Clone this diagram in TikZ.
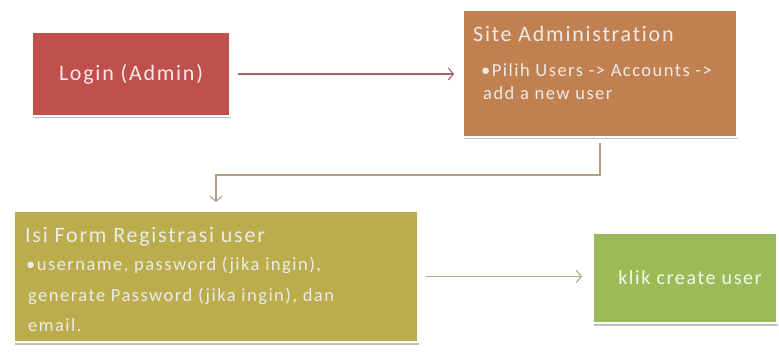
\documentclass[tikz,border=0pt]{standalone}
\usepackage{fontspec}
\setmainfont{Carlito}
\newfontfamily\boxfont[LetterSpace=8, Ligatures=NoCommon]{Carlito}
\usetikzlibrary{arrows.meta,shadows}
\definecolor{loginred}{HTML}{C0504D}
\definecolor{siteorange}{HTML}{C0804F}
\definecolor{formolive}{HTML}{BBAD4B}
\definecolor{klikgreen}{HTML}{9BBB59}
\definecolor{arrowA}{HTML}{9A6468}
\definecolor{arrowB}{HTML}{B49C7E}
\definecolor{arrowC}{HTML}{A9A88A}
\tikzset{
  box/.style={draw=white, line width=2pt, inner sep=0pt,
    drop shadow={shadow xshift=1pt, shadow yshift=-2.5pt, opacity=0.35, fill=black!70}},
  boxtxt/.style={text=white!92!black, inner sep=0pt, anchor=base west},
  titlefont/.style={font=\boxfont\fontsize{22}{26}\selectfont},
  bulfont/.style={font=\boxfont\fontsize{18.5}{22}\selectfont},
  conn/.style={line width=1.1pt, -{Straight Barb[length=5pt,width=12pt,line width=1.1pt]}},
}
\begin{document}
\begin{tikzpicture}[x=1pt,y=-1pt]
\path[use as bounding box, fill=white] (0,0) rectangle (779,358);

% boxes
\node[box, fill=loginred, minimum width=198pt, minimum height=84pt,
  titlefont, text=white!88!loginred] (login) at (131,74) {Login (Admin)};
\node[box, fill=siteorange, minimum width=274pt, minimum height=127pt] (site) at (600,73.5) {};
\node[box, fill=formolive, minimum width=404pt, minimum height=131pt] (form) at (216,276.5) {};
\node[box, fill=klikgreen, minimum width=184pt, minimum height=90pt,
  font=\boxfont\fontsize{20}{24}\selectfont, text=white!90!klikgreen] (klik) at (685,278) {\hspace*{10pt}klik create user};

% texts of site
\node[boxtxt, titlefont] (sitet) at (473,42) {Site Administration};
\node[boxtxt, bulfont] (site1) at (481,77) {\textbullet Pilih Users -> Accounts ->};
\node[boxtxt, bulfont] (site2) at (483,100) {add a new user};

% texts of form
\node[boxtxt, titlefont] (formt) at (25,243) {Isi Form Registrasi user};
\node[boxtxt, bulfont] (form1) at (26,270) {\textbullet username, password (jika ingin),};
\node[boxtxt, bulfont] (form2) at (28,301) {generate Password (jika ingin), dan};
\node[boxtxt, bulfont] (form3) at (28,331) {email.};

% connectors
\coordinate (bend) at (600,175);
\draw[conn, draw=arrowA, shorten <=7pt, shorten >=8pt] (login.east) -- (login.east -| site.west);
\draw[conn, draw=arrowB, shorten <=5pt, shorten >=8pt] (site.south) -- (bend) -| (form.north);
\draw[conn, draw=arrowC, shorten <=7pt, shorten >=10pt] (form.east) -- (form.east -| klik.west);
\end{tikzpicture}
\end{document}
